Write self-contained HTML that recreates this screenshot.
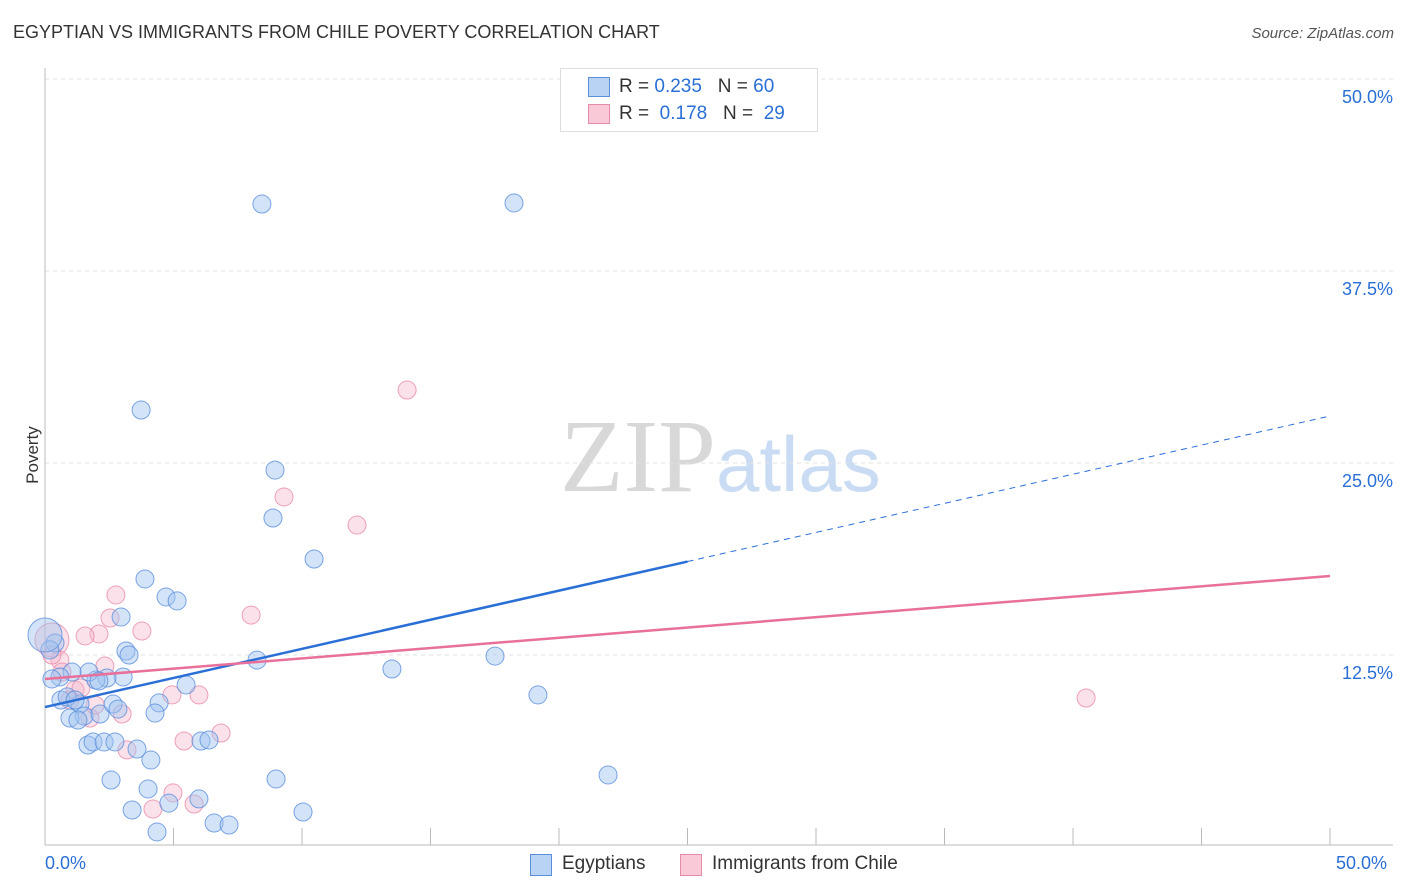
<!DOCTYPE html>
<html><head><meta charset="utf-8"><style>
body{margin:0;background:#fff;font-family:"Liberation Sans",sans-serif;}
#wrap{position:relative;width:1406px;height:892px;overflow:hidden;}
.t{position:absolute;white-space:nowrap;}
</style></head><body>
<div id="wrap">
<div class="t" style="left:13px;top:22px;font-size:18px;color:#333;">EGYPTIAN VS IMMIGRANTS FROM CHILE POVERTY CORRELATION CHART</div>
<div class="t" style="right:12px;top:25px;font-size:15px;color:#555;font-style:italic;">Source: ZipAtlas.com</div>
<div class="t" style="left:4px;top:445px;font-size:17px;color:#333;transform:rotate(-90deg);transform-origin:center;">Poverty</div>
<svg id="svg" width="1406" height="892" style="position:absolute;left:0;top:0">
<text x="716" y="491" text-anchor="end" font-family="Liberation Serif" font-size="104" fill="#d8d8d8">ZIP</text>
<text x="716" y="491" font-family="Liberation Sans" font-size="78" fill="#c9dcf3">atlas</text>
<g id="grid"></g><g id="pts"></g><g id="lines"></g>
</svg>
<div style="position:absolute;left:560px;top:68px;width:256px;height:62px;border:1px solid #ddd;background:#fff;font-size:19px;">
 <div style="position:absolute;left:27px;top:8px;width:20px;height:18px;background:#b9d3f4;border:1px solid #5b8fdc"></div>
 <div class="t" style="left:58px;top:7px;color:#333">R = <span style="color:#2a6fd6">0.235</span> &nbsp; N = <span style="color:#2a6fd6">60</span></div>
 <div style="position:absolute;left:27px;top:35px;width:20px;height:18px;background:#f9c9d8;border:1px solid #e58aa8"></div>
 <div class="t" style="left:58px;top:34px;color:#333">R = &nbsp;<span style="color:#2a6fd6">0.178</span> &nbsp; N = &nbsp;<span style="color:#2a6fd6">29</span></div>
</div>
<div style="position:absolute;left:530px;top:854px;width:20px;height:20px;background:#b9d3f4;border:1px solid #5b8fdc"></div>
<div class="t" style="left:562px;top:853px;font-size:19px;color:#333">Egyptians</div>
<div style="position:absolute;left:680px;top:854px;width:20px;height:20px;background:#f9c9d8;border:1px solid #e58aa8"></div>
<div class="t" style="left:712px;top:853px;font-size:19px;color:#333">Immigrants from Chile</div>
<div class="t" style="left:45px;top:853px;font-size:18px;color:#2a6fd6">0.0%</div>
<div class="t" style="left:1336px;top:853px;font-size:18px;color:#2a6fd6">50.0%</div>
</div>
<script>
const blueX=[8.44,18.25,3.74,8.95,8.87,10.47,3.89,4.71,5.14,2.96,3.15,3.27,8.25,13.5,17.51,19.18,5.49,4.44,4.28,3.04,2.41,1.98,1.71,1.05,0.58,0.27,0.39,0.19,0,0.62,1.36,1.52,0.97,1.28,2.14,2.65,2.84,1.67,1.87,2.3,2.72,3.58,4.12,6.07,6.38,2.57,4.01,4.82,5.99,8.99,10.04,3.39,4.36,6.58,7.16,21.91,2.1,0.86,1.17];
const blueY=[41.86,41.93,28.45,24.54,21.42,18.75,17.45,16.28,16.02,14.97,12.76,12.5,12.17,11.59,12.43,9.9,10.55,9.38,8.72,11.07,11.0,10.87,11.39,11.39,11.07,10.94,13.28,12.83,13.8,9.57,9.31,8.53,8.4,8.27,8.66,9.31,8.98,6.64,6.84,6.84,6.84,6.38,5.66,6.9,6.97,4.36,3.78,2.86,3.13,4.43,2.28,2.41,0.98,1.56,1.43,4.69,10.81,9.77,9.57];
const blueW=blueX.map((v,i)=>i===28?3:1);
const pinkX=[14.09,9.3,12.14,2.76,2.53,2.1,1.56,3.77,8.02,0.27,0.58,0.66,2.33,1.17,1.4,4.94,5.99,3.0,1.75,5.41,6.85,3.19,4.98,4.2,5.8,40.51,0.27,0.97,1.95];
const pinkY=[29.75,22.79,20.96,16.41,14.91,13.87,13.74,14.06,15.1,13.48,12.17,11.39,11.78,10.22,10.35,9.9,9.9,8.66,8.4,6.9,7.42,6.32,3.52,2.47,2.8,9.7,12.5,9.57,9.24];
const pinkW=pinkX.map((v,i)=>i===9?3:1);
const yTicks=[12.5,25,37.5,50];
const xTicks=[5,10,15,20,25,30,35,40,45,50];
const blueTrend=[9.11,28.06], pinkTrend=[10.94,17.64], blueSolidEnd=25;
const X=v=>45+v*25.7, Y=v=>847-v*15.36;
const NS='http://www.w3.org/2000/svg';
function mk(p,tag,a){const e=document.createElementNS(NS,tag);for(const k in a)e.setAttribute(k,a[k]);p.appendChild(e);return e;}
const g=document.getElementById('grid');
yTicks.forEach(t=>{
 const l=mk(g,'line',{x1:45,x2:1393,y1:Y(t),y2:Y(t),stroke:'#e2e2e2','stroke-dasharray':'4,4'});
 
 
 const tx=mk(g,'text',{x:1393,y:Y(t)+24,'text-anchor':'end','font-size':18,fill:'#2a6fd6','font-family':'Liberation Sans'});
 tx.textContent=t.toFixed(1)+'%';
 
 
});
xTicks.forEach(t=>{
 const l=mk(g,'line',{x1:X(t),x2:X(t),y1:828,y2:845,stroke:'#bbb'});
 
 
});
mk(g,'line',{x1:45,x2:45,y1:68,y2:845,stroke:'#bbb'});
mk(g,'line',{x1:45,x2:1393,y1:845,y2:845,stroke:'#bbb'});
const pg=document.getElementById('pts');
function dots(xs,ys,ws,fill,stroke,name){xs.forEach((x,i)=>{
 const c=mk(pg,'circle',{cx:X(x),cy:Y(ys[i]),r:ws[i]>1?17:9,fill:fill,stroke:stroke,'stroke-width':1,'stroke-opacity':0.8});
 
 
});}
dots(pinkX,pinkY,pinkW,'rgba(246,182,202,0.4)','#e88aaa','chile-point');
dots(blueX,blueY,blueW,'rgba(160,196,240,0.45)','#5b8fdc','egyptian-point');
const lg=document.getElementById('lines');
const by=x=>blueTrend[0]+(blueTrend[1]-blueTrend[0])*x/50;
const l1=mk(lg,'line',{x1:X(0),y1:Y(by(0)),x2:X(blueSolidEnd),y2:Y(by(blueSolidEnd)),stroke:'#2a6fd6','stroke-width':2.5});


const l2=mk(lg,'line',{x1:X(blueSolidEnd),y1:Y(by(blueSolidEnd)),x2:X(50),y2:Y(by(50)),stroke:'#2a6fd6','stroke-width':1,'stroke-dasharray':'6,5'});


const l3=mk(lg,'line',{x1:X(0),y1:Y(pinkTrend[0]),x2:X(50),y2:Y(pinkTrend[1]),stroke:'#e8709a','stroke-width':2.5});


</script>
</body></html>
